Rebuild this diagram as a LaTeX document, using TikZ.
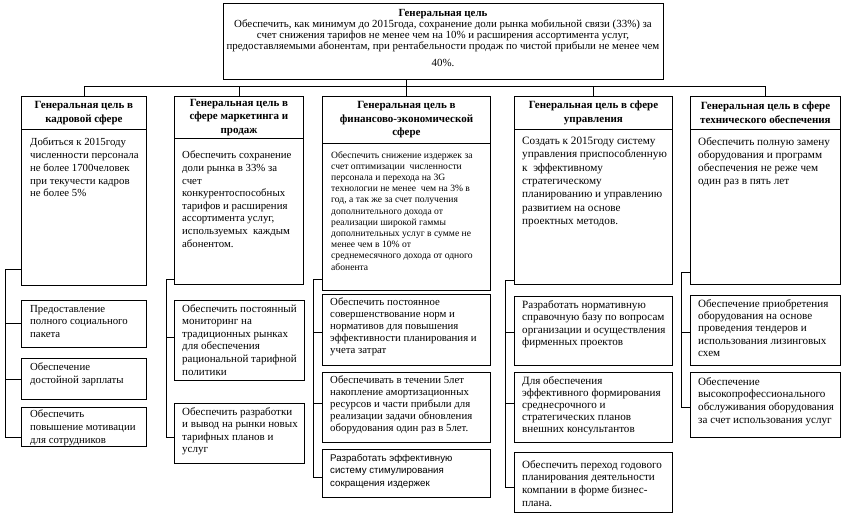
\documentclass[tikz,border=0pt]{standalone}
\usepackage{fontspec}
\setmainfont{Liberation Serif}
\newfontfamily\arialfont{Liberation Sans}
\usetikzlibrary{calc}
\newcommand\fs[2]{\fontsize{#1}{#2}\selectfont}
\tikzset{
  box/.style={draw, line width=0.9pt, anchor=north west, inner sep=0pt},
  txt/.style={anchor=north west, align=left, inner sep=0pt},
  hd/.style={align=center, inner sep=0pt, font=\bfseries\fs{11}{13.5}},
  ln/.style={line width=0.9pt}
}
\newcommand\bx[5]{\node[box,minimum width=#4pt,minimum height=#5pt] (#1) at (#2,#3) {};}
\begin{document}
\begin{tikzpicture}[x=1pt,y=-1pt]
\useasboundingbox (0,0) rectangle (843,514);
% top box
\bx{top}{223}{3}{440}{76}
\node[align=center, inner sep=0pt, anchor=north, font=\fs{10.9}{11.2}] (toptxt) at (443,9)
 {\textbf{Генеральная цель}\\
 Обеспечить, как минимум до 2015года, сохранение доли рынка мобильной связи (33\%) за\\
 счет снижения тарифов не менее чем на 10\% и расширения ассортимента услуг,\\
 предоставляемыми абонентам, при рентабельности продаж по чистой прибыли не менее чем\\[5pt]
 40\%.};
% column 1
\bx{h1}{21}{96}{125}{33}
\bx{b1}{21}{129}{125}{156}
\node[hd] (h1t) at (h1.center) {Генеральная цель в\\кадровой сфере};
\node[txt, font=\fs{10.8}{12.7}] (b1t) at ([xshift=9pt,yshift=-9pt]b1.north west) {Добиться к 2015году\\численности персонала\\не более 1700человек\\при текучести кадров\\не более 5\%};
\bx{s11}{21}{300}{125}{47}
\bx{s12}{21}{358}{125}{41}
\bx{s13}{21}{407}{125}{39}
\node[txt, font=\fs{10.8}{12.7}] (s11t) at ([xshift=9pt,yshift=-5pt]s11.north west) {Предоставление\\полного социального\\пакета};
\node[txt, font=\fs{10.8}{12.7}] (s12t) at ([xshift=9pt,yshift=-5pt]s12.north west) {Обеспечение\\достойной зарплаты};
\node[txt, font=\fs{10.8}{12.7}] (s13t) at ([xshift=9pt,yshift=-3pt]s13.north west) {Обеспечить\\повышение мотивации\\для сотрудников};
% column 2
\bx{h2}{174}{96}{129}{42}
\bx{b2}{174}{138}{129}{146}
\node[hd] (h2t) at (h2.center) {Генеральная цель в\\сфере маркетинга и\\продаж};
\node[txt, font=\fs{10.8}{12.6}] (b2t) at ([xshift=8pt,yshift=-13pt]b2.north west) {Обеспечить сохранение\\доли рынка в 33\% за\\счет\\конкурентоспособных\\тарифов и расширения\\ассортимента услуг,\\используемых~ каждым\\абонентом.};
\bx{s21}{174}{300}{130}{80}
\bx{s22}{174}{403}{130}{60}
\node[txt, font=\fs{11}{12.6}] (s21t) at ([xshift=8pt,yshift=-4pt]s21.north west) {Обеспечить постоянный\\мониторинг на\\традиционных рынках\\для обеспечения\\рациональной тарифной\\политики};
\node[txt, font=\fs{11}{12.6}] (s22t) at ([xshift=8pt,yshift=-4pt]s22.north west) {Обеспечить разработки\\и вывод на рынки новых\\тарифных планов и\\услуг};
% column 3
\bx{h3}{322}{96}{168}{47}
\bx{b3}{322}{143}{168}{147}
\node[hd] (h3t) at (h3.center) {Генеральная цель в\\финансово-экономической\\сфере};
\node[txt, font=\fs{9.6}{11.2}] (b3t) at ([xshift=9pt,yshift=-8pt]b3.north west) {Обеспечить снижение издержек за\\счет оптимизации~ численности\\персонала и перехода на 3G\\технологии не менее~ чем на 3\% в\\год, а так же за счет получения\\дополнительного дохода от\\реализации широкой гаммы\\дополнительных услуг в сумме не\\менее чем в 10\% от\\среднемесячного дохода от одного\\абонента};
\bx{s31}{322}{294}{168}{71}
\bx{s32}{322}{372}{168}{70}
\bx{s33}{322}{449}{168}{48}
\node[txt, font=\fs{10.8}{12}] (s31t) at ([xshift=8pt,yshift=-4pt]s31.north west) {Обеспечить постоянное\\совершенствование норм и\\нормативов для повышения\\эффективности планирования и\\учета затрат};
\node[txt, font=\fs{10.8}{12}] (s32t) at ([xshift=8pt,yshift=-4pt]s32.north west) {Обеспечивать в течении 5лет\\накопление амортизационных\\ресурсов и части прибыли для\\реализации задачи обновления\\оборудования один раз в 5лет.};
\node[txt, font=\arialfont\fs{9.7}{12.5}] (s33t) at ([xshift=8pt,yshift=-5pt]s33.north west) {Разработать эффективную\\систему стимулирования\\сокращения издержек};
% column 4
\bx{h4}{514}{96}{158}{33}
\bx{b4}{514}{129}{158}{155}
\node[hd] (h4t) at (h4.center) {Генеральная цель в сфере\\управления};
\node[txt, font=\fs{11.2}{13.3}] (b4t) at ([xshift=8pt,yshift=-8pt]b4.north west) {Создать к 2015году систему\\управления приспособленную\\к~ эффективному\\стратегическому\\планированию и управлению\\развитием на основе\\проектных методов.};
\bx{s41}{514}{296}{158}{69}
\bx{s42}{514}{372}{158}{70}
\bx{s43}{514}{452}{158}{60}
\node[txt, font=\fs{11.1}{12.6}] (s41t) at ([xshift=8pt,yshift=-4pt]s41.north west) {Разработать нормативную\\справочную базу по вопросам\\организации и осуществления\\фирменных проектов};
\node[txt, font=\fs{11.1}{12.2}] (s42t) at ([xshift=8pt,yshift=-4pt]s42.north west) {Для обеспечения\\эффективного формирования\\среднесрочного и\\стратегических планов\\внешних консультантов};
\node[txt, font=\fs{11.1}{12.8}] (s43t) at ([xshift=8pt,yshift=-8pt]s43.north west) {Обеспечить переход годового\\планирования деятельности\\компании в форме бизнес-\\плана.};
% column 5
\bx{h5}{690}{96}{150}{33}
\bx{b5}{690}{129}{150}{155}
\node[hd] (h5t) at (h5.center) {Генеральная цель в сфере\\технического обеспечения};
\node[txt, font=\fs{11.2}{13}] (b5t) at ([xshift=8pt,yshift=-8pt]b5.north west) {Обеспечить полную замену\\оборудования и программ\\обеспечения не реже чем\\один раз в пять лет};
\bx{s51}{690}{295}{150}{70}
\bx{s52}{690}{372}{150}{65}
\node[txt, font=\fs{11.1}{12.4}] (s51t) at ([xshift=8pt,yshift=-4pt]s51.north west) {Обеспечение приобретения\\оборудования на основе\\проведения тендеров и\\использования лизинговых\\схем};
\node[txt, font=\fs{11.1}{12.8}] (s52t) at ([xshift=8pt,yshift=-5pt]s52.north west) {Обеспечение\\высокопрофессионального\\обслуживания оборудования\\за счет использования услуг};
% top bus
\coordinate (bus) at (406,86);
\draw[ln] (top.south -| bus) -- (bus);
\draw[ln] (h1.north |- bus) -- (h5.north |- bus);
\foreach \h in {h1,h2,h3,h4,h5} \draw[ln] (\h.north |- bus) -- (\h.north);
% column 1 tree
\coordinate (j1) at (5,269);
\coordinate (e1) at (5,437);
\coordinate (k11) at (5,323);
\coordinate (k12) at (5,379);
\draw[ln] (j1 -| b1.west) -- (j1) -- (e1) -- (e1 -| s13.west);
\draw[ln] (k11) -- (k11 -| s11.west);
\draw[ln] (k12) -- (k12 -| s12.west);
% column 2 tree
\coordinate (j2) at (166,279);
\coordinate (e2) at (166,437);
\coordinate (k21) at (166,337);
\draw[ln] (j2 -| b2.west) -- (j2) -- (e2) -- (e2 -| s22.west);
\draw[ln] (k21) -- (k21 -| s21.west);
% column 3 tree
\coordinate (j3) at (313,279);
\coordinate (e3) at (313,477);
\coordinate (k31) at (313,332);
\coordinate (k32) at (313,403);
\draw[ln] (j3 -| b3.west) -- (j3) -- (e3) -- (e3 -| s33.west);
\draw[ln] (k31) -- (k31 -| s31.west);
\draw[ln] (k32) -- (k32 -| s32.west);
% column 4 tree
\coordinate (j4) at (505,280);
\coordinate (e4) at (505,487);
\coordinate (k41) at (505,332);
\coordinate (k42) at (505,403);
\draw[ln] (j4 -| b4.west) -- (j4) -- (e4) -- (e4 -| s43.west);
\draw[ln] (k41) -- (k41 -| s41.west);
\draw[ln] (k42) -- (k42 -| s42.west);
% column 5 tree
\coordinate (j5) at (681,272);
\coordinate (e5) at (681,407);
\coordinate (k51) at (681,332);
\draw[ln] (j5 -| b5.west) -- (j5) -- (e5) -- (e5 -| s52.west);
\draw[ln] (k51) -- (k51 -| s51.west);
\end{tikzpicture}
\end{document}
